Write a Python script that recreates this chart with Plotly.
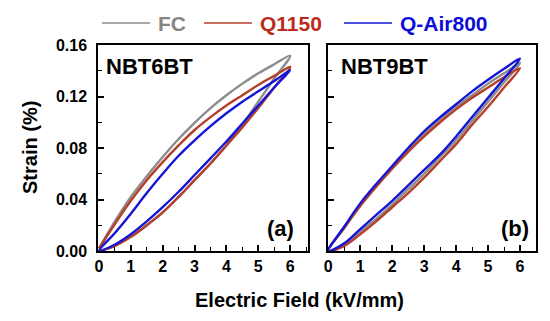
import plotly.graph_objects as go

# Field values for a full loop: rising branch 0->6, then falling branch 6->0
E_loop = [0, 0.5, 1, 1.5, 2, 2.5, 3, 3.5, 4, 4.5, 5, 5.5, 6,
          5.5, 5, 4.5, 4, 3.5, 3, 2.5, 2, 1.5, 1, 0.5, 0]

# NBT6BT (panel a)
S6_FC = [0, 0.004, 0.011, 0.020, 0.030, 0.042, 0.055, 0.068, 0.082, 0.098, 0.116, 0.134, 0.1516,
         0.145, 0.138, 0.130, 0.121, 0.111, 0.0995, 0.087, 0.073, 0.058, 0.042, 0.023, 0.002]
S6_Q1150 = [0, 0.004, 0.011, 0.020, 0.030, 0.042, 0.055, 0.068, 0.082, 0.096, 0.111, 0.127, 0.143,
            0.136, 0.129, 0.121, 0.113, 0.104, 0.094, 0.082, 0.069, 0.055, 0.039, 0.021, 0.002]
S6_QAir800 = [0, 0.005, 0.013, 0.023, 0.034, 0.046, 0.059, 0.072, 0.085, 0.099, 0.113, 0.127, 0.1405,
              0.132, 0.124, 0.116, 0.107, 0.097, 0.086, 0.074, 0.060, 0.045, 0.029, 0.014, 0]

# NBT9BT (panel b)
S9_FC = [0, 0.005, 0.015, 0.025, 0.036, 0.048, 0.060, 0.073, 0.086, 0.101, 0.116, 0.131, 0.146,
         0.138, 0.130, 0.121, 0.112, 0.102, 0.091, 0.078, 0.065, 0.051, 0.036, 0.018, 0]
S9_Q1150 = [0, 0.004, 0.013, 0.023, 0.034, 0.045, 0.057, 0.070, 0.083, 0.098, 0.112, 0.127, 0.142,
            0.135, 0.127, 0.119, 0.110, 0.100, 0.089, 0.077, 0.064, 0.050, 0.035, 0.018, 0]
S9_QAir800 = [0, 0.006, 0.017, 0.028, 0.039, 0.051, 0.063, 0.075, 0.089, 0.104, 0.119, 0.134, 0.1495,
              0.1415, 0.133, 0.124, 0.114, 0.104, 0.093, 0.080, 0.066, 0.052, 0.037, 0.019, 0]

series_names = ["FC", "Q1150", "Q-Air800"]
line_colors = ["#8c8c8c", "#b5402a", "#1515d8"]
text_colors = ["#858585", "#bb2a1c", "#0d0dd8"]
panel_names = ["NBT6BT", "NBT9BT"]
panel_tags = ["(a)", "(b)"]
y_ticks = [0.00, 0.04, 0.08, 0.12, 0.16]
x_ticks = [0, 1, 2, 3, 4, 5, 6]

OFF = 8  # page body margin
W, H = 550 - OFF, 321 - OFF
L, R, T, B = 98 - OFF, 14, 45 - OFF, 70
pw, ph = W - L - R, H - T - B

def px_x(px):
    return (px - OFF - L) / pw

def px_y(py):
    return (H - B - (py - OFF)) / ph

fig = go.Figure()
panels = [[S6_FC, S6_Q1150, S6_QAir800], [S9_FC, S9_Q1150, S9_QAir800]]
for p, data in enumerate(panels):
    xa = "x" if p == 0 else "x2"
    ya = "y" if p == 0 else "y2"
    for i, s in enumerate(data):
        fig.add_trace(go.Scatter(x=E_loop, y=s, mode="lines", xaxis=xa, yaxis=ya,
                                 line=dict(color=line_colors[i], width=2.4, shape="spline", smoothing=1.0),
                                 showlegend=False, name=series_names[i]))

FAM = "Liberation Sans, Arial"
font_tick = dict(family=FAM, size=16, color="black", weight="bold")
axis_common = dict(showline=True, linecolor="black", linewidth=1.5, mirror=True,
                   ticks="inside", ticklen=6, tickwidth=1.5, tickcolor="black",
                   showgrid=False, zeroline=False, tickfont=font_tick)
minor_x = dict(dtick=0.5, ticks="inside", ticklen=4, tickcolor="black", tickwidth=1.2)
minor_y = dict(dtick=0.02, ticks="inside", ticklen=4, tickcolor="black", tickwidth=1.2)

x1d = [px_x(98), px_x(308)]
x2d = [px_x(328), px_x(536)]
fig.update_layout(
    width=W, height=H, margin=dict(l=L, r=R, t=T, b=B, autoexpand=False),
    paper_bgcolor="white", plot_bgcolor="white",
    xaxis=dict(domain=x1d, range=[-0.03, 6.56], tickvals=x_ticks, minor=minor_x, **axis_common),
    xaxis2=dict(domain=x2d, range=[-0.01, 6.5], tickvals=x_ticks, anchor="y2", minor=minor_x, **axis_common),
    yaxis=dict(domain=[0, 1], range=[0, 0.16], tickvals=y_ticks, tickformat=".2f",
               minor=minor_y, ticklabelstandoff=6, **axis_common),
    yaxis2=dict(domain=[0, 1], range=[0, 0.16], tickvals=y_ticks, showticklabels=False, anchor="x2",
                minor=minor_y, **axis_common),
)

def txt(x, y, s, size, color="black", xa="center", ya="middle", angle=0):
    return dict(x=px_x(x), y=px_y(y), xref="paper", yref="paper", text="<b>" + s + "</b>",
                showarrow=False, xanchor=xa, yanchor=ya, textangle=angle,
                font=dict(family=FAM, size=size, color=color))

ann = [
    txt(30, 148, "Strain (%)", 20, angle=-90),
    txt(299, 300, "Electric Field (kV/mm)", 20),
    txt(104, 67, panel_names[0], 22, xa="left"),
    txt(339, 67, panel_names[1], 22, xa="left"),
    txt(296, 228, panel_tags[0], 22, xa="right"),
    txt(531, 228, panel_tags[1], 22, xa="right"),
]

# manual legend
leg_line = [(102, 150), (204, 252), (344, 392)]
leg_text = [156, 258, 398]
shapes = []
for i in range(3):
    x0, x1 = leg_line[i]
    shapes.append(dict(type="line", xref="paper", yref="paper", x0=px_x(x0), x1=px_x(x1),
                       y0=px_y(23), y1=px_y(23), line=dict(color=line_colors[i], width=1.5)))
    ann.append(txt(leg_text[i], 23, series_names[i], 21, color=text_colors[i], xa="left"))

fig.update_layout(annotations=ann, shapes=shapes)
fig.write_html("out.html")
